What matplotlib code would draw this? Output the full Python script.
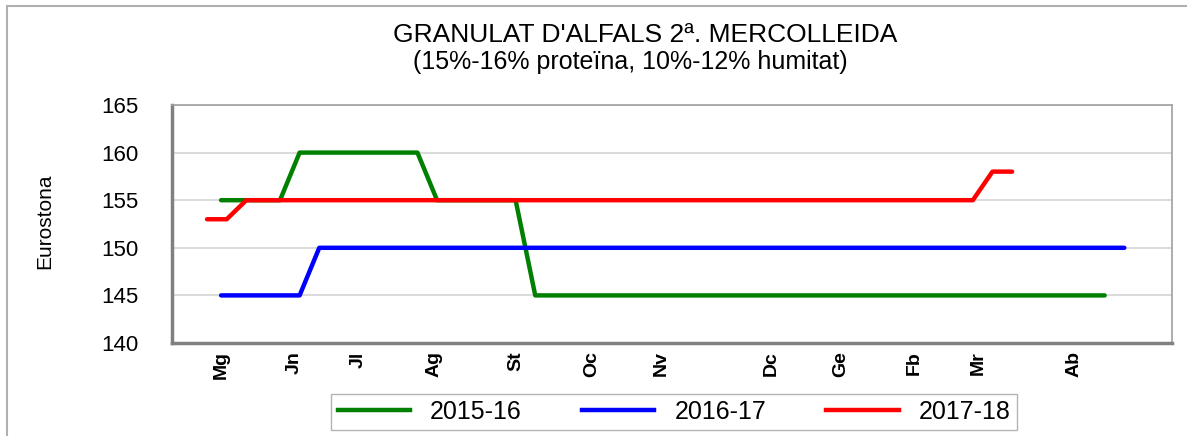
import matplotlib
matplotlib.use('Agg')
import matplotlib.pyplot as plt
from matplotlib.lines import Line2D
from matplotlib.patches import Rectangle

plt.rcParams['font.family'] = ['Liberation Sans', 'DejaVu Sans']

# ---------------- data (weekly prices, euros/tona) ----------------
# x = days from the start of the campaign (first week of May)
start_2015 = 5
start_2016 = 5
start_2017 = 0

price_2015 = [155, 155, 155, 155,
              160, 160, 160, 160, 160, 160, 160,
              155, 155, 155, 155, 155] + [145] * 30
price_2016 = [145, 145, 145, 145, 145] + [150] * 42
price_2017 = [153, 153] + [155] * 38 + [158, 158]

month_labels = ['Mg', 'Jn', 'Jl', 'Ag', 'St', 'Oc', 'Nv', 'Dc', 'Ge', 'Fb', 'Mr', 'Ab']
month_days = [5, 31, 54, 81, 110, 137, 162, 201, 226, 252, 275, 309]

series = [
    ('2015-16', start_2015, price_2015, '#008000'),
    ('2016-17', start_2016, price_2016, '#0000ff'),
    ('2017-18', start_2017, price_2017, '#ff0000'),
]

# ------------------------------------------------------------------

fig = plt.figure(figsize=(11.87, 4.36), dpi=100)
ax = fig.add_axes([172 / 1187, 93 / 436, 1000 / 1187, 238 / 436])

handles = []
for name, start, vals, col in series:
    days = [start + 7 * i for i in range(len(vals))]
    ax.plot(days, vals, color=col, lw=3.2, solid_capstyle='round',
            solid_joinstyle='round', zorder=3)
    handles.append(Line2D([], [], color=col, lw=3.2, label=name))

ax.set_xlim(-12.5, 344)
ax.set_ylim(140, 165)
ax.set_yticks([140, 145, 150, 155, 160, 165])
ax.set_xticks(month_days)
ax.set_xticklabels(month_labels, rotation=90, fontsize=14, fontweight='bold')
ax.tick_params(axis='x', length=0, pad=6)
ax.tick_params(axis='y', length=0, pad=24, labelsize=16)
ax.yaxis.grid(True, color='#d4d4d4', lw=1.2)
ax.set_axisbelow(True)

for s in ['top', 'right']:
    ax.spines[s].set_color('#a0a0a0')
    ax.spines[s].set_linewidth(1.2)
for s in ['left', 'bottom']:
    ax.spines[s].set_color('#808080')
    ax.spines[s].set_linewidth(2.5)

fig.text(45 / 1187, 1 - 221 / 436, 'Eurostona', rotation=90,
         ha='center', va='center', fontsize=15)

fig.text(645 / 1187, 1 - 35 / 436, "GRANULAT D'ALFALS 2ª. MERCOLLEIDA",
         ha='center', va='center', fontsize=19)
fig.text(630 / 1187, 1 - 62 / 436, '(15%-16% proteïna, 10%-12% humitat)',
         ha='center', va='center', fontsize=18)

leg = fig.legend(handles=handles, loc='center', ncol=3,
                 bbox_to_anchor=(674 / 1187, 1 - 412 / 436),
                 fontsize=18, handlelength=2.9, handletextpad=0.8,
                 columnspacing=2.4, frameon=True, fancybox=False,
                 borderpad=0.25)
leg.get_frame().set_edgecolor('#a0a0a0')
leg.get_frame().set_linewidth(1.0)

# outer chart border
fig.patches.append(Rectangle((7 / 1187, -0.01), 1.02, 1 - 6 / 436 + 0.01,
                             transform=fig.transFigure, fill=False,
                             edgecolor='#b0b0b0', lw=1.5))

fig.savefig('out.png', dpi=100)
